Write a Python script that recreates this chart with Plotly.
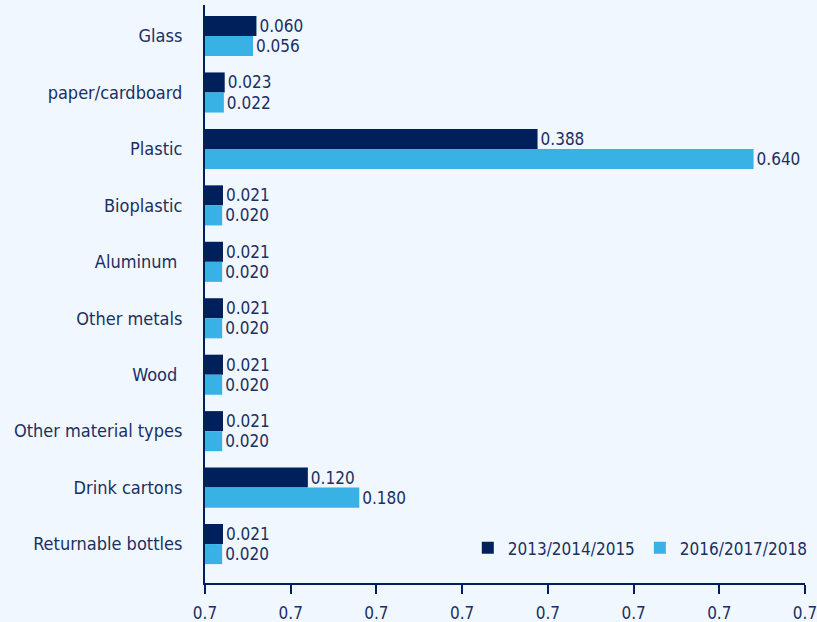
import plotly.graph_objects as go

# Packaging material categories and the two reporting periods
categories = ["Glass", "paper/cardboard", "Plastic", "Bioplastic", "Aluminum ",
              "Other metals", "Wood ", "Other material types", "Drink cartons",
              "Returnable bottles"]
period_a = "2013/2014/2015"
period_b = "2016/2017/2018"
values_a = [0.060, 0.023, 0.388, 0.021, 0.021, 0.021, 0.021, 0.021, 0.120, 0.021]
values_b = [0.056, 0.022, 0.640, 0.020, 0.020, 0.020, 0.020, 0.020, 0.180, 0.020]

tick_vals = [0, 0.1, 0.2, 0.3, 0.4, 0.5, 0.6, 0.7]
tick_text = ["0.7"] * len(tick_vals)

NAVY = "#00205c"
SKY = "#38b2e4"
TEXT = "#1b2f63"
BG = "#f0f7fe"
FONT = "DejaVu Sans Condensed, DejaVu Sans, sans-serif"

fig = go.Figure()
for name, vals, color in [(period_a, values_a, NAVY), (period_b, values_b, SKY)]:
    fig.add_trace(go.Bar(
        name=name, y=categories, x=vals, orientation="h",
        marker=dict(color=color, line=dict(width=0)),
        texttemplate="%{x:.3f}", textposition="outside",
        textfont=dict(family=FONT, size=17, color=TEXT),
        cliponaxis=False,
    ))

fig.update_layout(
    width=817, height=622,
    margin=dict(l=205, r=12, t=5, b=39, autoexpand=False),
    paper_bgcolor=BG, plot_bgcolor=BG,
    barmode="group", bargap=0.29, bargroupgap=0,
    font=dict(family=FONT, size=17, color=TEXT),
    showlegend=True,
    legend=dict(orientation="h", x=1.013, xanchor="right", y=0.06, yanchor="middle",
                bgcolor="rgba(0,0,0,0)", font=dict(size=17, color=TEXT),
                traceorder="normal", itemwidth=30),
)
fig.update_xaxes(
    range=[0, 0.7], tickvals=tick_vals, ticktext=tick_text,
    showgrid=False, zeroline=False, showline=True, linecolor=NAVY, linewidth=2,
    ticks="outside", ticklen=9, tickwidth=2, tickcolor=NAVY,
    ticklabelstandoff=5, ticklabeloverflow="allow",
    tickfont=dict(size=17, color=TEXT), automargin=False,
)
fig.update_yaxes(
    range=[9.69, -0.55], showgrid=False, zeroline=False,
    showline=True, linecolor=NAVY, linewidth=2, ticks="",
    ticklabelstandoff=17, tickfont=dict(size=18, color=TEXT), automargin=False,
)

fig.write_html("out.html")
